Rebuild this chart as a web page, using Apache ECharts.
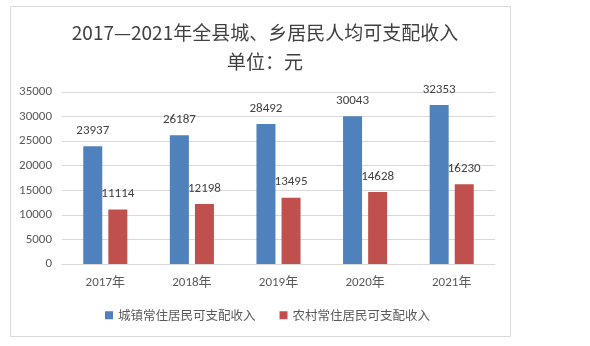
<!DOCTYPE html>
<html><head><meta charset="utf-8">
<script src="https://cdn.jsdelivr.net/npm/echarts@6/dist/echarts.min.js"></script>
<style>html,body{margin:0;padding:0;background:#fff}#c{width:590px;height:346px}</style>
</head><body><div id="c"></div>
<script>
const categories = ['2017年','2018年','2019年','2020年','2021年'];
const urbanName = '城镇常住居民可支配收入';
const ruralName = '农村常住居民可支配收入';
const urbanValues = [23937, 26187, 28492, 30043, 32353];
const ruralValues = [11114, 12198, 13495, 14628, 16230];
const titleLines = ['2017—2021年全县城、乡居民人均可支配收入', '单位：元'];

const numFont = 'Carlito, "Liberation Sans", "Noto Sans CJK SC", sans-serif';
const chart = echarts.init(document.getElementById('c'));
chart.setOption({
  animation: false,
  graphic: [{type:'rect', shape:{x:10.5,y:6.5,width:500,height:330}, style:{fill:'#fff',stroke:'#d9d9d9',lineWidth:1}, z:-10}],
  title: {
    text: titleLines.join('\n'),
    left: 260, textAlign: 'center', top: 13,
    textStyle: {fontFamily:'"Noto Sans CJK SC", sans-serif', fontSize:19, fontWeight:'normal', color:'#404040', lineHeight:29}
  },
  legend: {
    top: 304, left: 100, itemWidth: 8, itemHeight: 8, itemGap: 24,
    icon: 'rect',
    textStyle: {fontFamily:'"Noto Sans CJK SC", sans-serif', fontSize:12.5, color:'#595959'},
    data: [urbanName, ruralName]
  },
  grid: {left: 62, right: 95, top: 92, bottom: 82},
  xAxis: {
    type:'category', data: categories,
    axisLine:{lineStyle:{color:'#d9d9d9'}}, axisTick:{show:false},
    axisLabel:{fontFamily:numFont, fontSize:13, color:'#595959', margin:12}
  },
  yAxis: {
    type:'value', min:0, max:35000, interval:5000,
    axisLine:{show:false}, axisTick:{show:false},
    splitLine:{lineStyle:{color:'#d9d9d9'}},
    axisLabel:{fontFamily:numFont, fontSize:13, color:'#595959', margin:10, formatter: v => String(v)}
  },
  series: [
    {name: urbanName, type:'bar', data: urbanValues, barWidth:19, barGap:'32%',
     itemStyle:{color:'#4f81bd'},
     label:{show:true, position:'top', distance:9, fontFamily:numFont, fontSize:13, color:'#404040'}},
    {name: ruralName, type:'bar', data: ruralValues, barWidth:19,
     itemStyle:{color:'#c0504d'},
     label:{show:true, position:'top', distance:9, fontFamily:numFont, fontSize:13, color:'#404040'}}
  ]
});
</script></body></html>
